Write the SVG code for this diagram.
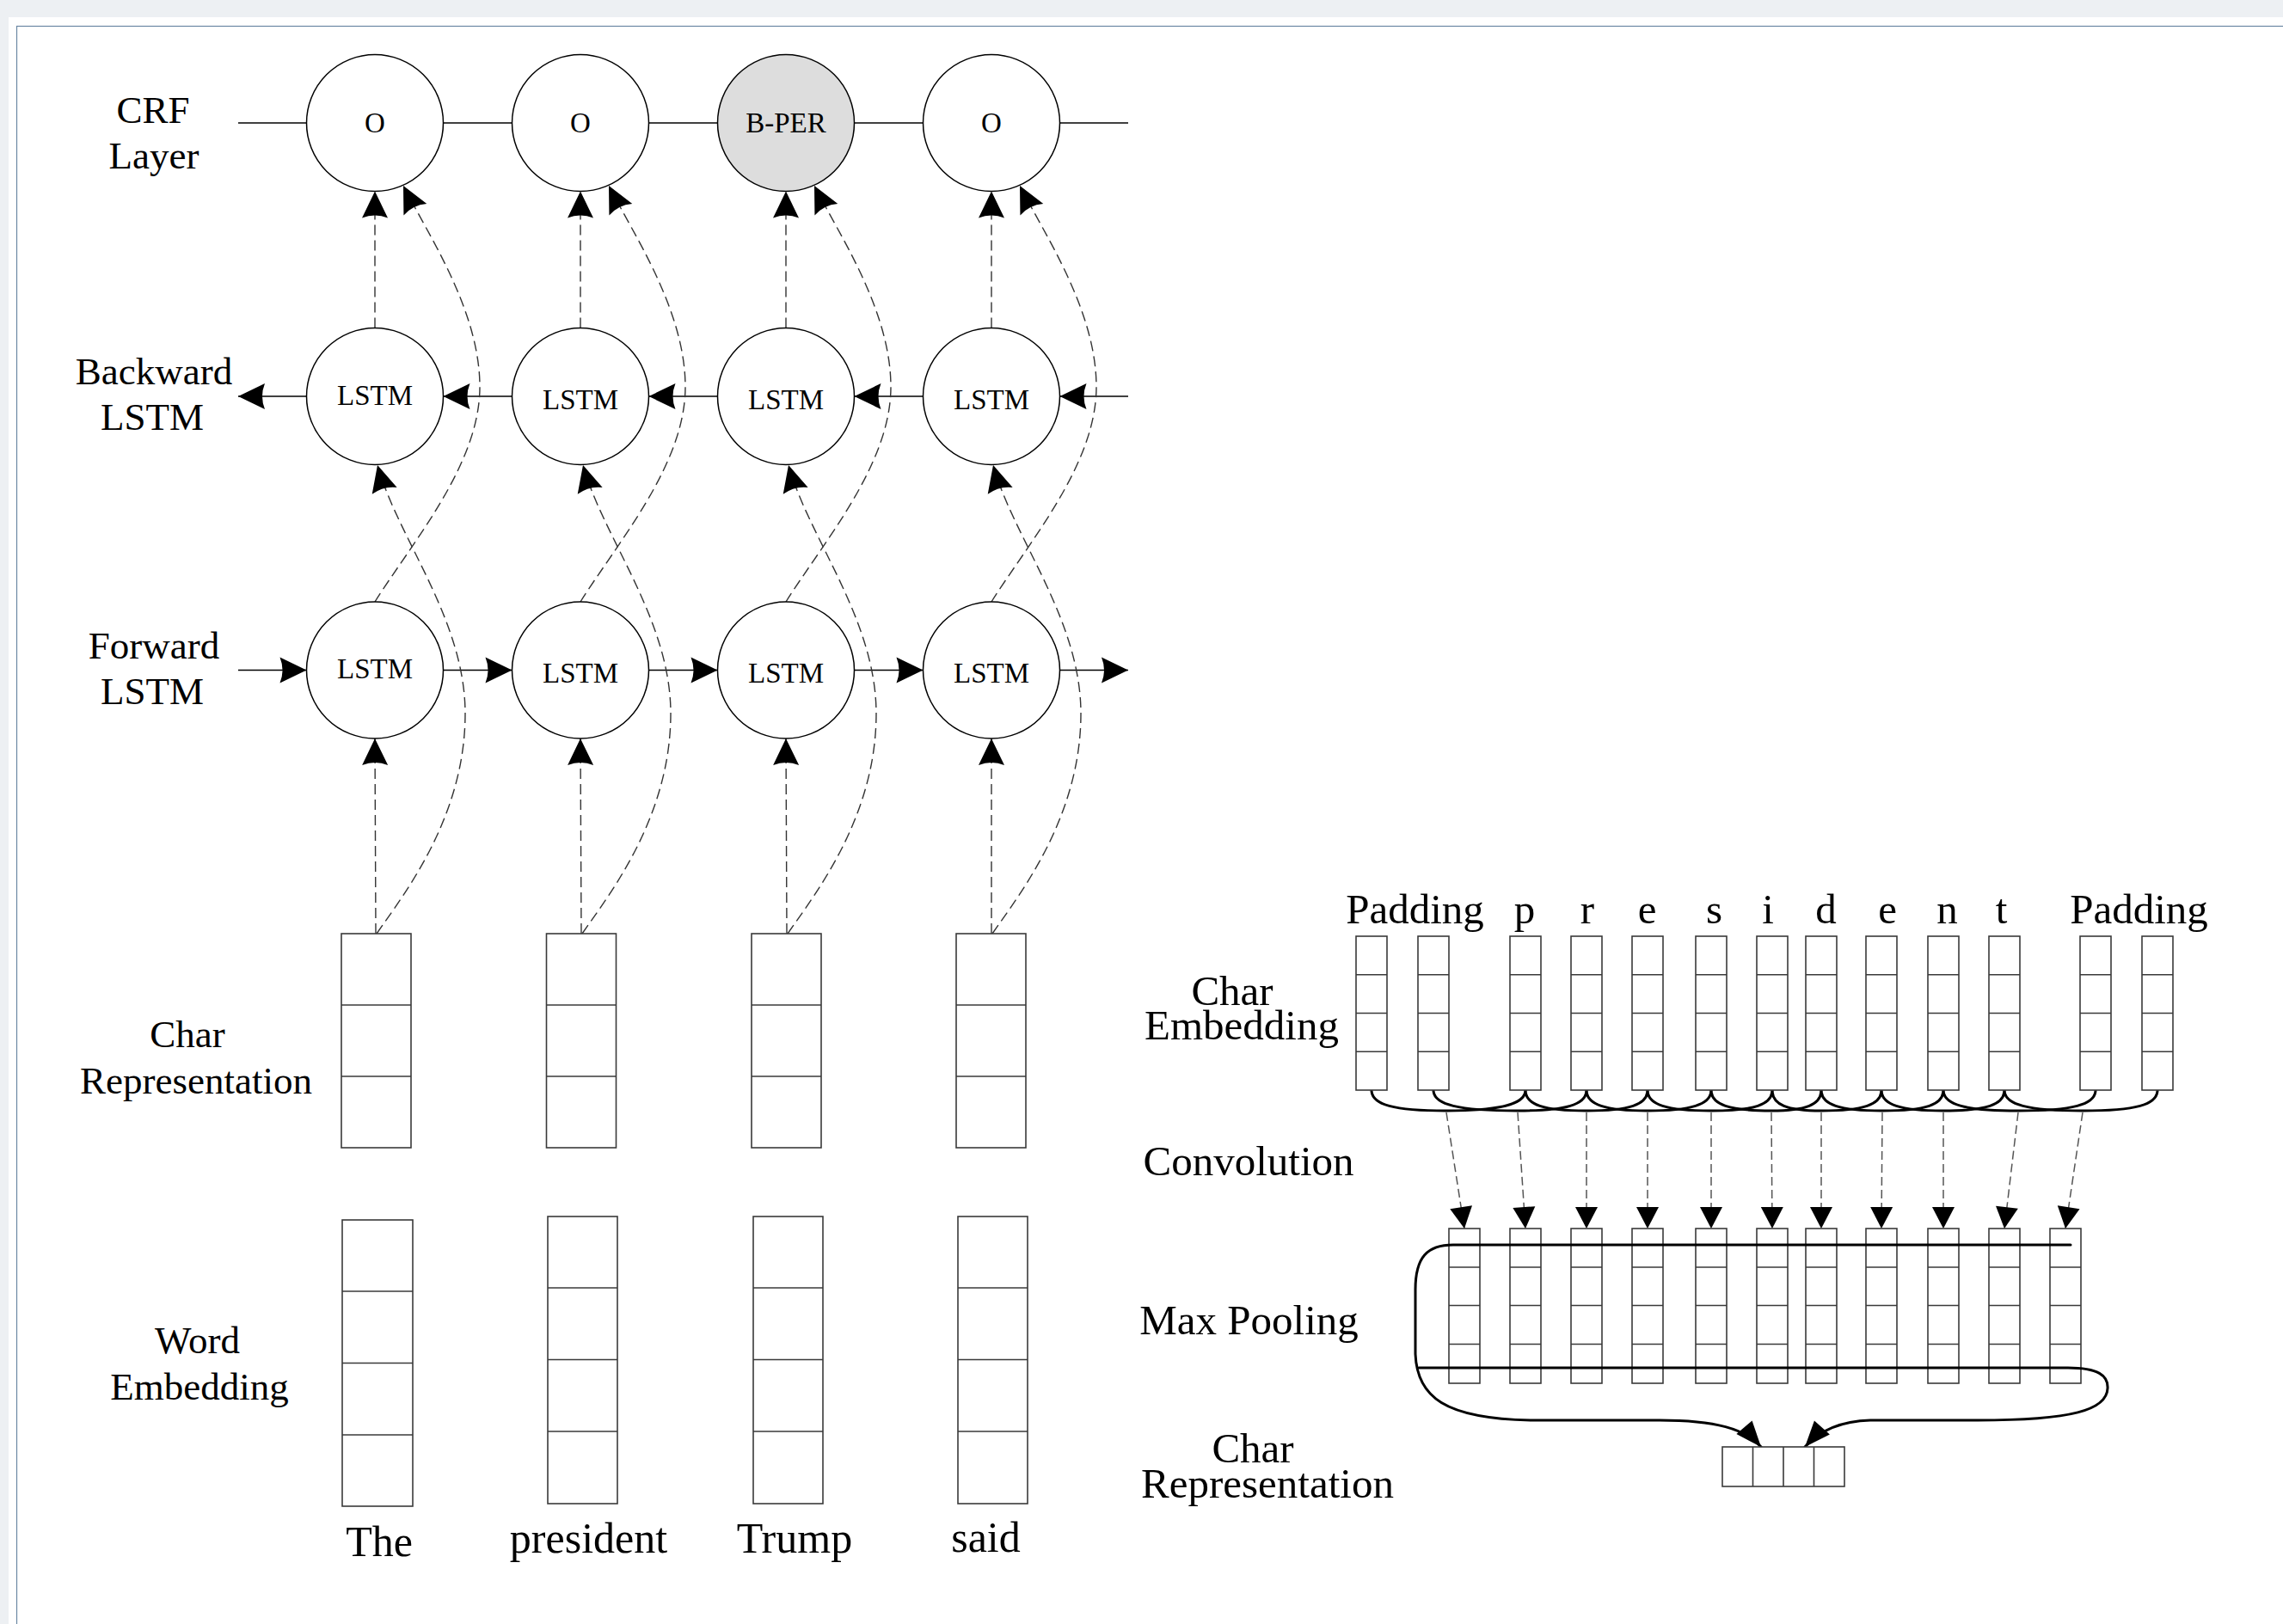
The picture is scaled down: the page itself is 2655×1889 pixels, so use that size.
<svg xmlns="http://www.w3.org/2000/svg" width="2655" height="1889" viewBox="0 0 2655 1889">
<defs>
<style>
.lbl{font-family:"Liberation Serif","Times New Roman",serif;font-size:45px;fill:#000;text-anchor:middle}
.rl{font-family:"Liberation Serif","Times New Roman",serif;font-size:49px;fill:#000;text-anchor:middle}
.wd{font-family:"Liberation Serif","Times New Roman",serif;font-size:50px;fill:#000;text-anchor:middle}
.nt{font-family:"Liberation Serif","Times New Roman",serif;font-size:33px;fill:#000;text-anchor:middle}
.circ{fill:#fff;stroke:#000;stroke-width:1.5}
.box{fill:#fff;stroke:#3a3a3a;stroke-width:1.6}
.cell{stroke:#3a3a3a;stroke-width:1.6}
.sl{fill:none;stroke:#000;stroke-width:1.5}
.dl{fill:none;stroke:#333;stroke-width:1.4;stroke-dasharray:12 6}
.dr{fill:none;stroke:#555;stroke-width:1.5;stroke-dasharray:10 5}
.th{fill:none;stroke:#000;stroke-width:3;stroke-linecap:round}
</style>
<marker id="aL" markerUnits="userSpaceOnUse" viewBox="-33 -17 35 34" refX="0" refY="0" markerWidth="35" markerHeight="34" orient="auto" overflow="visible">
<path d="M0,0 L-31,-15 Q-25,0 -31,15 Z" fill="#000"/>
</marker>
<marker id="aR" markerUnits="userSpaceOnUse" viewBox="-27 -15 29 30" refX="0" refY="0" markerWidth="29" markerHeight="30" orient="auto" overflow="visible">
<path d="M0,0 L-25,-13 L-25,13 Z" fill="#000"/>
</marker>
<marker id="aB" markerUnits="userSpaceOnUse" viewBox="-32 -14 34 28" refX="0" refY="0" markerWidth="34" markerHeight="28" orient="auto" overflow="visible">
<path d="M0,0 L-30,-12 L-30,12 Z" fill="#000"/>
</marker>
</defs>

<rect x="0" y="0" width="2655" height="1889" fill="#edf0f3"/>
<rect x="10" y="20" width="2700" height="1900" fill="#fff"/>
<rect x="19.5" y="30.5" width="2700" height="1900" fill="none" stroke="#6a87a3" stroke-width="1.2"/>

<!-- left labels -->
<g id="labels-left">
<text class="lbl" x="178" y="143">CRF</text>
<text class="lbl" x="179" y="196">Layer</text>
<text class="lbl" x="179" y="447">Backward</text>
<text class="lbl" x="177" y="500">LSTM</text>
<text class="lbl" x="179" y="766">Forward</text>
<text class="lbl" x="177" y="819">LSTM</text>
<text class="lbl" x="218" y="1218">Char</text>
<text class="lbl" x="228" y="1272">Representation</text>
<text class="lbl" x="229.5" y="1574">Word</text>
<text class="lbl" x="232" y="1628">Embedding</text>
</g>

<!-- connectors -->
<g id="connectors">
<!-- CRF chain -->
<line class="sl" x1="277" y1="143" x2="356.5" y2="143"/>
<line class="sl" x1="515.5" y1="143" x2="595.5" y2="143"/>
<line class="sl" x1="754.5" y1="143" x2="834.5" y2="143"/>
<line class="sl" x1="993.5" y1="143" x2="1073.5" y2="143"/>
<line class="sl" x1="1232.5" y1="143" x2="1312" y2="143"/>
<!-- backward chain -->
<line class="sl" x1="356.5" y1="461" x2="277" y2="461" marker-end="url(#aL)"/>
<line class="sl" x1="595.5" y1="461" x2="515.5" y2="461" marker-end="url(#aL)"/>
<line class="sl" x1="834.5" y1="461" x2="754.5" y2="461" marker-end="url(#aL)"/>
<line class="sl" x1="1073.5" y1="461" x2="993.5" y2="461" marker-end="url(#aL)"/>
<line class="sl" x1="1312" y1="461" x2="1232.5" y2="461" marker-end="url(#aL)"/>
<!-- forward chain -->
<line class="sl" x1="277" y1="779.5" x2="356.5" y2="779.5" marker-end="url(#aL)"/>
<line class="sl" x1="515.5" y1="779.5" x2="595.5" y2="779.5" marker-end="url(#aL)"/>
<line class="sl" x1="754.5" y1="779.5" x2="834.5" y2="779.5" marker-end="url(#aL)"/>
<line class="sl" x1="993.5" y1="779.5" x2="1073.5" y2="779.5" marker-end="url(#aL)"/>
<line class="sl" x1="1232.5" y1="779.5" x2="1312" y2="779.5" marker-end="url(#aL)"/>

<!-- per column dashed -->
<g id="col1-links">
<line class="dl" x1="436" y1="381.5" x2="436" y2="222.5" marker-end="url(#aL)"/>
<line class="dl" x1="437" y1="1086" x2="436" y2="859" marker-end="url(#aL)"/>
<path class="dl" d="M436,700 C480,630 558,540 558,450 C558,360 496,270 469,216" marker-end="url(#aL)"/>
<path class="dl" d="M438,1086 C470,1040 541,950 541,830 C541,720 462,625 439,541" marker-end="url(#aL)"/>
</g>
<g id="col2-links">
<line class="dl" x1="675" y1="381.5" x2="675" y2="222.5" marker-end="url(#aL)"/>
<line class="dl" x1="676" y1="1086" x2="675" y2="859" marker-end="url(#aL)"/>
<path class="dl" d="M675,700 C719,630 797,540 797,450 C797,360 735,270 708,216" marker-end="url(#aL)"/>
<path class="dl" d="M677,1086 C709,1040 780,950 780,830 C780,720 701,625 678,541" marker-end="url(#aL)"/>
</g>
<g id="col3-links">
<line class="dl" x1="914" y1="381.5" x2="914" y2="222.5" marker-end="url(#aL)"/>
<line class="dl" x1="915" y1="1086" x2="914" y2="859" marker-end="url(#aL)"/>
<path class="dl" d="M914,700 C958,630 1036,540 1036,450 C1036,360 974,270 947,216" marker-end="url(#aL)"/>
<path class="dl" d="M916,1086 C948,1040 1019,950 1019,830 C1019,720 940,625 917,541" marker-end="url(#aL)"/>
</g>
<g id="col4-links">
<line class="dl" x1="1153" y1="381.5" x2="1153" y2="222.5" marker-end="url(#aL)"/>
<line class="dl" x1="1153" y1="1086" x2="1153" y2="859" marker-end="url(#aL)"/>
<path class="dl" d="M1153,700 C1197,630 1275,540 1275,450 C1275,360 1213,270 1186,216" marker-end="url(#aL)"/>
<path class="dl" d="M1154,1086 C1186,1040 1257,950 1257,830 C1257,720 1178,625 1155,541" marker-end="url(#aL)"/>
</g>

<!-- convolution braces -->
<g id="conv-braces" class="th" fill="none">
<path d="M1595,1268 C1595,1285 1621,1292 1682,1292 C1743,1292 1774,1285 1774,1268"/>
<path d="M1667,1268 C1667,1285 1696,1292 1765,1292 C1821,1292 1845,1285 1845,1268"/>
<path d="M1774,1268 C1774,1285 1795,1292 1845,1292 C1895,1292 1916,1285 1916,1268"/>
<path d="M1845,1268 C1845,1285 1867,1292 1916,1292 C1966,1292 1990,1285 1990,1268"/>
<path d="M1916,1268 C1916,1285 1938,1292 1990,1292 C2040,1292 2061,1285 2061,1268"/>
<path d="M1990,1268 C1990,1285 2011,1292 2060,1292 C2100,1292 2118,1285 2118,1268"/>
<path d="M2061,1268 C2061,1285 2078,1292 2118,1292 C2167,1292 2188,1285 2188,1268"/>
<path d="M2118,1268 C2118,1285 2139,1292 2189,1292 C2240,1292 2260,1285 2260,1268"/>
<path d="M2188,1268 C2188,1285 2210,1292 2260,1292 C2310,1292 2331,1285 2331,1268"/>
<path d="M2260,1268 C2260,1285 2286,1292 2347,1292 C2410,1292 2437,1285 2437,1268"/>
<path d="M2331,1268 C2331,1285 2358,1292 2422,1292 C2484,1292 2509,1285 2509,1268"/>
</g>

<!-- convolution dashed arrows -->
<g id="conv-arrows">
<line class="dr" x1="1682" y1="1294" x2="1703" y2="1429" marker-end="url(#aR)"/>
<line class="dr" x1="1765" y1="1294" x2="1774" y2="1429" marker-end="url(#aR)"/>
<line class="dr" x1="1845" y1="1294" x2="1845" y2="1429" marker-end="url(#aR)"/>
<line class="dr" x1="1916" y1="1294" x2="1916" y2="1429" marker-end="url(#aR)"/>
<line class="dr" x1="1990" y1="1294" x2="1990" y2="1429" marker-end="url(#aR)"/>
<line class="dr" x1="2060" y1="1294" x2="2061" y2="1429" marker-end="url(#aR)"/>
<line class="dr" x1="2118" y1="1294" x2="2118" y2="1429" marker-end="url(#aR)"/>
<line class="dr" x1="2189" y1="1294" x2="2188" y2="1429" marker-end="url(#aR)"/>
<line class="dr" x1="2260" y1="1294" x2="2260" y2="1429" marker-end="url(#aR)"/>
<line class="dr" x1="2347" y1="1294" x2="2331" y2="1429" marker-end="url(#aR)"/>
<line class="dr" x1="2422" y1="1294" x2="2402" y2="1429" marker-end="url(#aR)"/>
</g>
</g>

<!-- left nodes -->
<g id="crf-1"><circle class="circ" cx="436" cy="143" r="79.5"/><text class="nt" x="436" y="154">O</text></g>
<g id="crf-2"><circle class="circ" cx="675" cy="143" r="79.5"/><text class="nt" x="675" y="154">O</text></g>
<g id="crf-3"><circle class="circ" cx="914" cy="143" r="79.5" style="fill:#dddddd"/><text class="nt" x="914" y="154">B-PER</text></g>
<g id="crf-4"><circle class="circ" cx="1153" cy="143" r="79.5"/><text class="nt" x="1153" y="154">O</text></g>

<g id="bwd-1"><circle class="circ" cx="436" cy="461" r="79.5"/><text class="nt" x="436" y="471">LSTM</text></g>
<g id="bwd-2"><circle class="circ" cx="675" cy="461" r="79.5"/><text class="nt" x="675" y="475.5">LSTM</text></g>
<g id="bwd-3"><circle class="circ" cx="914" cy="461" r="79.5"/><text class="nt" x="914" y="475.5">LSTM</text></g>
<g id="bwd-4"><circle class="circ" cx="1153" cy="461" r="79.5"/><text class="nt" x="1153" y="475.5">LSTM</text></g>

<g id="fwd-1"><circle class="circ" cx="436" cy="779.5" r="79.5"/><text class="nt" x="436" y="789">LSTM</text></g>
<g id="fwd-2"><circle class="circ" cx="675" cy="779.5" r="79.5"/><text class="nt" x="675" y="794">LSTM</text></g>
<g id="fwd-3"><circle class="circ" cx="914" cy="779.5" r="79.5"/><text class="nt" x="914" y="794">LSTM</text></g>
<g id="fwd-4"><circle class="circ" cx="1153" cy="779.5" r="79.5"/><text class="nt" x="1153" y="794">LSTM</text></g>

<!-- char representation vectors (left) -->
<g id="charrep-1"><rect class="box" x="397" y="1086" width="81" height="249"/><line class="cell" x1="397" y1="1169" x2="478" y2="1169"/><line class="cell" x1="397" y1="1252" x2="478" y2="1252"/></g>
<g id="charrep-2"><rect class="box" x="635.5" y="1086" width="81" height="249"/><line class="cell" x1="635.5" y1="1169" x2="716.5" y2="1169"/><line class="cell" x1="635.5" y1="1252" x2="716.5" y2="1252"/></g>
<g id="charrep-3"><rect class="box" x="874" y="1086" width="81" height="249"/><line class="cell" x1="874" y1="1169" x2="955" y2="1169"/><line class="cell" x1="874" y1="1252" x2="955" y2="1252"/></g>
<g id="charrep-4"><rect class="box" x="1112" y="1086" width="81" height="249"/><line class="cell" x1="1112" y1="1169" x2="1193" y2="1169"/><line class="cell" x1="1112" y1="1252" x2="1193" y2="1252"/></g>

<!-- word embedding vectors -->
<g id="wordemb-1"><rect class="box" x="398" y="1419" width="82" height="333"/><line class="cell" x1="398" y1="1502" x2="480" y2="1502"/><line class="cell" x1="398" y1="1585.5" x2="480" y2="1585.5"/><line class="cell" x1="398" y1="1669" x2="480" y2="1669"/></g>
<g id="wordemb-2"><rect class="box" x="637" y="1415" width="81" height="334"/><line class="cell" x1="637" y1="1498" x2="718" y2="1498"/><line class="cell" x1="637" y1="1581.5" x2="718" y2="1581.5"/><line class="cell" x1="637" y1="1665" x2="718" y2="1665"/></g>
<g id="wordemb-3"><rect class="box" x="876" y="1415" width="81" height="334"/><line class="cell" x1="876" y1="1498" x2="957" y2="1498"/><line class="cell" x1="876" y1="1581.5" x2="957" y2="1581.5"/><line class="cell" x1="876" y1="1665" x2="957" y2="1665"/></g>
<g id="wordemb-4"><rect class="box" x="1114" y="1415" width="81" height="334"/><line class="cell" x1="1114" y1="1498" x2="1195" y2="1498"/><line class="cell" x1="1114" y1="1581.5" x2="1195" y2="1581.5"/><line class="cell" x1="1114" y1="1665" x2="1195" y2="1665"/></g>

<g id="words">
<text class="wd" x="441" y="1810">The</text>
<text class="wd" x="684.5" y="1806">president</text>
<text class="wd" x="924" y="1806">Trump</text>
<text class="wd" x="1146.5" y="1805">said</text>
</g>

<!-- right side labels -->
<g id="labels-right">
<text class="rl" x="1433" y="1169">Char</text>
<text class="rl" x="1444" y="1209">Embedding</text>
<text class="rl" x="1452" y="1367">Convolution</text>
<text class="rl" x="1452.5" y="1552">Max Pooling</text>
<text class="rl" x="1457" y="1701">Char</text>
<text class="rl" x="1474" y="1742">Representation</text>
</g>

<g id="chars">
<text class="rl" x="1645.5" y="1074">Padding</text>
<text class="rl" x="1773" y="1074">p</text>
<text class="rl" x="1846" y="1074">r</text>
<text class="rl" x="1915.5" y="1074">e</text>
<text class="rl" x="1993.5" y="1074">s</text>
<text class="rl" x="2056" y="1074">i</text>
<text class="rl" x="2123.5" y="1074">d</text>
<text class="rl" x="2195" y="1074">e</text>
<text class="rl" x="2264.5" y="1074">n</text>
<text class="rl" x="2327.5" y="1074">t</text>
<text class="rl" x="2487.5" y="1074">Padding</text>
</g>

<!-- char embedding columns -->
<g id="char-emb">
<g id="ce-1"><rect class="box" x="1577" y="1089" width="36" height="179"/><path class="cell" d="M1577,1133.75H1613M1577,1178.5H1613M1577,1223.25H1613"/></g>
<g id="ce-2"><rect class="box" x="1649" y="1089" width="36" height="179"/><path class="cell" d="M1649,1133.75H1685M1649,1178.5H1685M1649,1223.25H1685"/></g>
<g id="ce-3"><rect class="box" x="1756" y="1089" width="36" height="179"/><path class="cell" d="M1756,1133.75H1792M1756,1178.5H1792M1756,1223.25H1792"/></g>
<g id="ce-4"><rect class="box" x="1827" y="1089" width="36" height="179"/><path class="cell" d="M1827,1133.75H1863M1827,1178.5H1863M1827,1223.25H1863"/></g>
<g id="ce-5"><rect class="box" x="1898" y="1089" width="36" height="179"/><path class="cell" d="M1898,1133.75H1934M1898,1178.5H1934M1898,1223.25H1934"/></g>
<g id="ce-6"><rect class="box" x="1972" y="1089" width="36" height="179"/><path class="cell" d="M1972,1133.75H2008M1972,1178.5H2008M1972,1223.25H2008"/></g>
<g id="ce-7"><rect class="box" x="2043" y="1089" width="36" height="179"/><path class="cell" d="M2043,1133.75H2079M2043,1178.5H2079M2043,1223.25H2079"/></g>
<g id="ce-8"><rect class="box" x="2100" y="1089" width="36" height="179"/><path class="cell" d="M2100,1133.75H2136M2100,1178.5H2136M2100,1223.25H2136"/></g>
<g id="ce-9"><rect class="box" x="2170" y="1089" width="36" height="179"/><path class="cell" d="M2170,1133.75H2206M2170,1178.5H2206M2170,1223.25H2206"/></g>
<g id="ce-10"><rect class="box" x="2242" y="1089" width="36" height="179"/><path class="cell" d="M2242,1133.75H2278M2242,1178.5H2278M2242,1223.25H2278"/></g>
<g id="ce-11"><rect class="box" x="2313" y="1089" width="36" height="179"/><path class="cell" d="M2313,1133.75H2349M2313,1178.5H2349M2313,1223.25H2349"/></g>
<g id="ce-12"><rect class="box" x="2419" y="1089" width="36" height="179"/><path class="cell" d="M2419,1133.75H2455M2419,1178.5H2455M2419,1223.25H2455"/></g>
<g id="ce-13"><rect class="box" x="2491" y="1089" width="36" height="179"/><path class="cell" d="M2491,1133.75H2527M2491,1178.5H2527M2491,1223.25H2527"/></g>
</g>

<!-- convolution output / max pooling columns -->
<g id="conv-out">
<g id="co-1"><rect class="box" x="1685" y="1429" width="36" height="180"/><path class="cell" d="M1685,1474H1721M1685,1518.5H1721M1685,1563.5H1721"/></g>
<g id="co-2"><rect class="box" x="1756" y="1429" width="36" height="180"/><path class="cell" d="M1756,1474H1792M1756,1518.5H1792M1756,1563.5H1792"/></g>
<g id="co-3"><rect class="box" x="1827" y="1429" width="36" height="180"/><path class="cell" d="M1827,1474H1863M1827,1518.5H1863M1827,1563.5H1863"/></g>
<g id="co-4"><rect class="box" x="1898" y="1429" width="36" height="180"/><path class="cell" d="M1898,1474H1934M1898,1518.5H1934M1898,1563.5H1934"/></g>
<g id="co-5"><rect class="box" x="1972" y="1429" width="36" height="180"/><path class="cell" d="M1972,1474H2008M1972,1518.5H2008M1972,1563.5H2008"/></g>
<g id="co-6"><rect class="box" x="2043" y="1429" width="36" height="180"/><path class="cell" d="M2043,1474H2079M2043,1518.5H2079M2043,1563.5H2079"/></g>
<g id="co-7"><rect class="box" x="2100" y="1429" width="36" height="180"/><path class="cell" d="M2100,1474H2136M2100,1518.5H2136M2100,1563.5H2136"/></g>
<g id="co-8"><rect class="box" x="2170" y="1429" width="36" height="180"/><path class="cell" d="M2170,1474H2206M2170,1518.5H2206M2170,1563.5H2206"/></g>
<g id="co-9"><rect class="box" x="2242" y="1429" width="36" height="180"/><path class="cell" d="M2242,1474H2278M2242,1518.5H2278M2242,1563.5H2278"/></g>
<g id="co-10"><rect class="box" x="2313" y="1429" width="36" height="180"/><path class="cell" d="M2313,1474H2349M2313,1518.5H2349M2313,1563.5H2349"/></g>
<g id="co-11"><rect class="box" x="2384" y="1429" width="36" height="180"/><path class="cell" d="M2384,1474H2420M2384,1518.5H2420M2384,1563.5H2420"/></g>
</g>

<!-- max pooling lines -->
<g id="pool-connectors">
<path class="th" d="M2408,1448 L1690,1448 C1660,1448 1646,1462 1646,1500 L1646,1575 C1648,1625 1680,1650 1780,1652 L1930,1652 C1995,1652 2030,1662 2048,1683" marker-end="url(#aB)"/>
<path class="th" d="M1650,1591 L2405,1591 C2440,1591 2452,1600 2451,1615 C2450,1640 2410,1652 2300,1652 L2175,1652 C2140,1653 2115,1665 2099,1683" marker-end="url(#aB)"/>
</g>

<g id="char-rep-out"><rect class="box" x="2003" y="1683" width="142" height="46"/><path class="cell" d="M2038.5,1683V1729M2074,1683V1729M2109.5,1683V1729"/></g>
</svg>
